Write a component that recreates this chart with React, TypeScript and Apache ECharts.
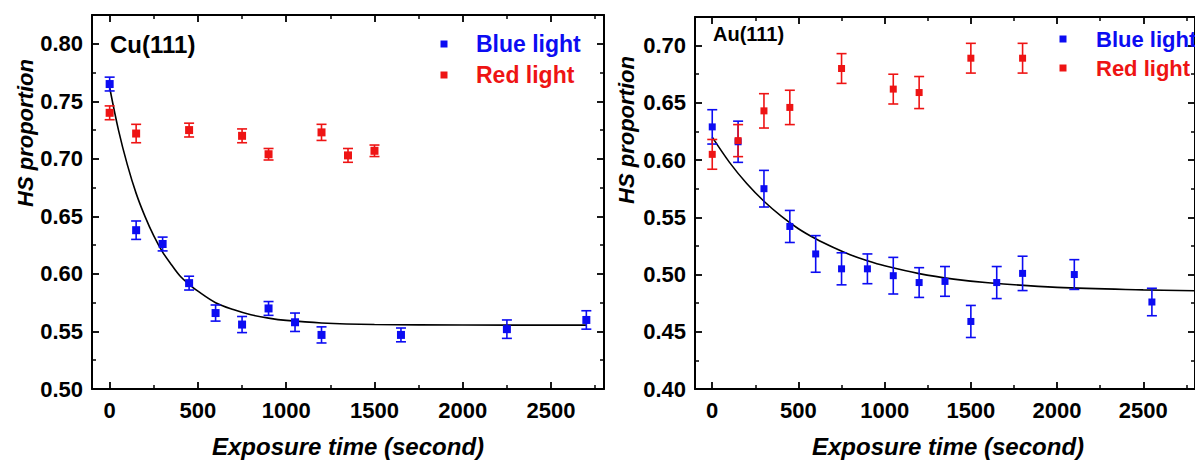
import React, { useEffect, useRef } from "react";
import * as echarts from "echarts";

// ---- Cu(111) panel data ----
const CU_BLUE_X = [0, 150, 300, 450, 600, 750, 900, 1050, 1200, 1650, 2250, 2700];
const CU_BLUE_Y = [0.765, 0.638, 0.626, 0.592, 0.566, 0.556, 0.57, 0.558, 0.547, 0.547, 0.552, 0.56];
const CU_BLUE_ERR = [0.006, 0.008, 0.006, 0.006, 0.007, 0.007, 0.006, 0.008, 0.007, 0.006, 0.008, 0.008];
const CU_RED_X = [0, 150, 450, 750, 900, 1200, 1350, 1500];
const CU_RED_Y = [0.74, 0.722, 0.725, 0.72, 0.704, 0.723, 0.703, 0.707];
const CU_RED_ERR = [0.006, 0.008, 0.006, 0.006, 0.005, 0.007, 0.006, 0.005];
const CU_FIT_X = [0, 50, 100, 150, 200, 250, 300, 350, 400, 450, 500, 600, 700, 800, 900, 1000, 1200, 1500, 2000, 2700];
const CU_FIT_Y = [0.762, 0.725, 0.695, 0.67, 0.65, 0.633, 0.619, 0.608, 0.598, 0.591, 0.585, 0.575, 0.569, 0.5645, 0.5616, 0.5596, 0.5574, 0.5561, 0.5556, 0.5555];

// ---- Au(111) panel data ----
const AU_BLUE_X = [0, 150, 300, 450, 600, 750, 900, 1050, 1200, 1350, 1500, 1650, 1800, 2100, 2550];
const AU_BLUE_Y = [0.629, 0.616, 0.575, 0.542, 0.518, 0.505, 0.505, 0.499, 0.493, 0.494, 0.459, 0.493, 0.501, 0.5, 0.476];
const AU_BLUE_ERR = [0.015, 0.018, 0.016, 0.014, 0.016, 0.014, 0.013, 0.016, 0.013, 0.013, 0.014, 0.014, 0.015, 0.013, 0.012];
const AU_RED_X = [0, 150, 300, 450, 750, 1050, 1200, 1500, 1800];
const AU_RED_Y = [0.605, 0.617, 0.643, 0.646, 0.68, 0.662, 0.659, 0.689, 0.689];
const AU_RED_ERR = [0.013, 0.014, 0.015, 0.015, 0.013, 0.013, 0.014, 0.013, 0.013];
const AU_FIT_X = [0, 100, 200, 300, 400, 500, 600, 700, 800, 900, 1000, 1200, 1400, 1600, 2000, 2500, 2800];
const AU_FIT_Y = [0.62, 0.598, 0.5795, 0.564, 0.551, 0.54, 0.5312, 0.5238, 0.5173, 0.512, 0.5076, 0.5008, 0.496, 0.4928, 0.4888, 0.4866, 0.4859];

// ---- ticks ----
const X_MAJOR = [0, 500, 1000, 1500, 2000, 2500];
const X_MINOR = [250, 750, 1250, 1750, 2250, 2750];
const CU_Y_MAJOR = [0.5, 0.55, 0.6, 0.65, 0.7, 0.75, 0.8];
const CU_Y_MINOR = [0.525, 0.575, 0.625, 0.675, 0.725, 0.775];
const AU_Y_MAJOR = [0.4, 0.45, 0.5, 0.55, 0.6, 0.65, 0.7];
const AU_Y_MINOR = [0.425, 0.475, 0.525, 0.575, 0.625, 0.675];

const LEGEND_NAMES = ["Blue light", "Red light"];
const AXIS_TITLE_X = "Exposure time (second)";
const AXIS_TITLE_Y = "HS proportion";

const BLUE = "#0c0cf2";
const RED = "#ee1414";
const FONT = "'Liberation Sans', Arial, sans-serif";

function xAxes(grid: number) {
  const base = {
    type: "value",
    gridIndex: grid,
    min: -100,
    max: 2800,
    splitLine: { show: false },
  };
  const line = { show: true, onZero: false, lineStyle: { color: "#000", width: 2 } };
  const lab = {
    show: true,
    customValues: X_MAJOR,
    margin: 10,
    fontSize: 22,
    fontWeight: "bold",
    fontFamily: FONT,
    color: "#000",
    formatter: (v: number) => String(Math.round(v)),
  };
  const maj = { show: true, inside: true, length: 7, customValues: X_MAJOR, lineStyle: { color: "#000", width: 1.8 } };
  const min = { show: true, inside: true, length: 4, customValues: X_MINOR, lineStyle: { color: "#000", width: 1.5 } };
  return [
    { ...base, position: "bottom", axisLine: line, axisTick: maj, axisLabel: lab },
    { ...base, position: "top", axisLine: line, axisTick: maj, axisLabel: { show: false } },
    { ...base, position: "bottom", axisLine: { show: false, onZero: false }, axisTick: min, axisLabel: { show: false } },
    { ...base, position: "top", axisLine: { show: false, onZero: false }, axisTick: min, axisLabel: { show: false } },
  ];
}

function yAxes(grid: number, ymin: number, ymax: number, major: number[], minor: number[]) {
  const base = {
    type: "value",
    gridIndex: grid,
    min: ymin,
    max: ymax,
    splitLine: { show: false },
  };
  const line = { show: true, onZero: false, lineStyle: { color: "#000", width: 2 } };
  const lab = {
    show: true,
    customValues: major,
    margin: 9,
    fontSize: 22,
    fontWeight: "bold",
    fontFamily: FONT,
    color: "#000",
    formatter: (v: number) => v.toFixed(2),
  };
  const maj = { show: true, inside: true, length: 7, customValues: major, lineStyle: { color: "#000", width: 1.8 } };
  const mn = { show: true, inside: true, length: 4, customValues: minor, lineStyle: { color: "#000", width: 1.5 } };
  return [
    { ...base, position: "left", axisLine: line, axisTick: maj, axisLabel: lab },
    { ...base, position: "right", axisLine: line, axisTick: maj, axisLabel: { show: false } },
    { ...base, position: "left", axisLine: { show: false, onZero: false }, axisTick: mn, axisLabel: { show: false } },
    { ...base, position: "right", axisLine: { show: false, onZero: false }, axisTick: mn, axisLabel: { show: false } },
  ];
}

function errorSeries(axis: number, xs: number[], ys: number[], es: number[], color: string, cap: number) {
  return {
    type: "custom",
    xAxisIndex: axis,
    yAxisIndex: axis,
    silent: true,
    z: 3,
    encode: { x: 0, y: [1, 2] },
    data: xs.map((x, i) => [x, ys[i] - es[i], ys[i] + es[i]]),
    renderItem: (_p: any, api: any) => {
      const x = api.value(0);
      const lo = api.coord([x, api.value(1)]);
      const hi = api.coord([x, api.value(2)]);
      const st = { stroke: color, lineWidth: 1.6 };
      return {
        type: "group",
        children: [
          { type: "line", shape: { x1: lo[0], y1: lo[1], x2: hi[0], y2: hi[1] }, style: st },
          { type: "line", shape: { x1: lo[0] - cap, y1: lo[1], x2: lo[0] + cap, y2: lo[1] }, style: st },
          { type: "line", shape: { x1: hi[0] - cap, y1: hi[1], x2: hi[0] + cap, y2: hi[1] }, style: st },
        ],
      };
    },
  };
}

function scatterSeries(axis: number, name: string, xs: number[], ys: number[], color: string, size: number) {
  return {
    type: "scatter",
    name,
    xAxisIndex: axis,
    yAxisIndex: axis,
    symbol: "rect",
    symbolSize: size,
    z: 4,
    itemStyle: { color, opacity: 1 },
    data: xs.map((x, i) => [x, ys[i]]),
  };
}

function fitSeries(axis: number, xs: number[], ys: number[]) {
  return {
    type: "line",
    xAxisIndex: axis,
    yAxisIndex: axis,
    smooth: 0.35,
    showSymbol: false,
    symbol: "none",
    z: 2,
    lineStyle: { color: "#000", width: 1.6 },
    data: xs.map((x, i) => [x, ys[i]]),
  };
}

function txt(text: string, x: number, y: number, font: string, fill: string, align = "left", rotation = 0) {
  return {
    type: "text",
    x,
    y,
    rotation,
    silent: true,
    z: 10,
    style: {
      text,
      font,
      fill,
      align,
      verticalAlign: "middle",
      textAlign: align,
      textVerticalAlign: "middle",
    },
  };
}

function marker(x: number, y: number, s: number, fill: string) {
  return { type: "rect", silent: true, z: 10, shape: { x: x - s / 2, y: y - s / 2, width: s, height: s }, style: { fill } };
}

export default function App() {
  const ref = useRef<HTMLDivElement>(null);
  useEffect(() => {
    if (!ref.current) return;
    const chart = echarts.init(ref.current, undefined, { renderer: "svg" });
    const titleFont = `italic bold 24px ${FONT}`;
    const yTitleFont = `italic bold 22px ${FONT}`;
    chart.setOption({
      animation: false,
      backgroundColor: "#ffffff",
      grid: [
        { left: 92, right: 1195 - 604, top: 15, bottom: 461 - 389 },
        { left: 695, right: 1195 - 1202, top: 17, bottom: 461 - 389 },
      ],
      xAxis: [...xAxes(0), ...xAxes(1)],
      yAxis: [
        ...yAxes(0, 0.5, 0.825, CU_Y_MAJOR, CU_Y_MINOR),
        ...yAxes(1, 0.4, 0.725, AU_Y_MAJOR, AU_Y_MINOR),
      ],
      series: [
        fitSeries(0, CU_FIT_X, CU_FIT_Y),
        errorSeries(0, CU_BLUE_X, CU_BLUE_Y, CU_BLUE_ERR, BLUE, 5),
        errorSeries(0, CU_RED_X, CU_RED_Y, CU_RED_ERR, RED, 5),
        scatterSeries(0, LEGEND_NAMES[0], CU_BLUE_X, CU_BLUE_Y, BLUE, 8),
        scatterSeries(0, LEGEND_NAMES[1], CU_RED_X, CU_RED_Y, RED, 8),
        fitSeries(4, AU_FIT_X, AU_FIT_Y),
        errorSeries(4, AU_BLUE_X, AU_BLUE_Y, AU_BLUE_ERR, BLUE, 5),
        errorSeries(4, AU_RED_X, AU_RED_Y, AU_RED_ERR, RED, 5),
        scatterSeries(4, LEGEND_NAMES[0], AU_BLUE_X, AU_BLUE_Y, BLUE, 7),
        scatterSeries(4, LEGEND_NAMES[1], AU_RED_X, AU_RED_Y, RED, 7),
      ],
      graphic: [
        txt(AXIS_TITLE_Y, 25, 133, yTitleFont, "#000", "center", Math.PI / 2),
        txt(AXIS_TITLE_Y, 626, 130, yTitleFont, "#000", "center", Math.PI / 2),
        txt(AXIS_TITLE_X, 348, 446, titleFont, "#000", "center"),
        txt(AXIS_TITLE_X, 948, 446, titleFont, "#000", "center"),
        txt("Cu(111)", 110, 44, `bold 24px ${FONT}`, "#000"),
        txt("Au(111)", 713, 34, `bold 20px ${FONT}`, "#000"),
        marker(444, 44, 7, BLUE),
        marker(444, 75, 7, RED),
        txt(LEGEND_NAMES[0], 476, 44, `bold 23px ${FONT}`, BLUE),
        txt(LEGEND_NAMES[1], 476, 75, `bold 23px ${FONT}`, RED),
        marker(1063, 39, 7, BLUE),
        marker(1063, 68, 7, RED),
        txt(LEGEND_NAMES[0], 1096, 39, `bold 22px ${FONT}`, BLUE),
        txt(LEGEND_NAMES[1], 1096, 68, `bold 22px ${FONT}`, RED),
      ],
    });
    return () => chart.dispose();
  }, []);
  return (
    <div
      ref={ref}
      style={{ position: "fixed", left: 0, top: 0, width: 1195, height: 461, overflow: "hidden", background: "#fff" }}
    />
  );
}
